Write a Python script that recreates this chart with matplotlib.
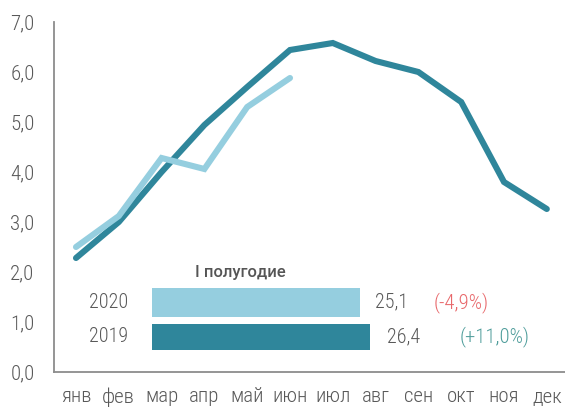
import matplotlib.pyplot as plt
from matplotlib.ticker import FuncFormatter

months = ["янв", "фев", "мар", "апр", "май", "июн", "июл", "авг", "сен", "окт", "ноя", "дек"]
y2019 = [2.28, 3.0, 4.0, 4.94, 5.7, 6.44, 6.58, 6.22, 6.0, 5.4, 3.8, 3.26]
y2020 = [2.5, 3.12, 4.28, 4.06, 5.3, 5.88]

bar_years = ["2020", "2019"]
bar_values = [25.1, 26.4]
bar_changes = ["(-4,9%)", "(+11,0%)"]

DARK = "#2f869b"
LIGHT = "#95cedf"
GRAY = "#595959"

plt.rcParams["font.family"] = ["Roboto Condensed", "Roboto", "DejaVu Sans"]
FS = 15

fig = plt.figure(figsize=(5.65, 4.08), dpi=100)
W, H = 565, 408
ax = fig.add_axes([54 / W, 1 - 372 / H, (565 - 54) / W, (372 - 22) / H])

x = list(range(len(months)))
ax.plot(x, y2019, color=DARK, lw=4.4, solid_capstyle="round", solid_joinstyle="miter")
ax.plot(x[:len(y2020)], y2020, color=LIGHT, lw=4.4, solid_capstyle="round", solid_joinstyle="miter")

ax.set_xlim(-(76 - 54) / 42.8, (565 - 76) / 42.8)
ax.set_ylim(0, 7)
ax.set_yticks([0, 1, 2, 3, 4, 5, 6, 7])
ax.yaxis.set_major_formatter(FuncFormatter(lambda v, p: f"{v:.1f}".replace(".", ",")))
ax.set_xticks(x)
ax.set_xticklabels(months)
ax.tick_params(axis="both", length=0, labelsize=FS, labelcolor=GRAY)
ax.tick_params(axis="y", pad=14)
ax.tick_params(axis="x", pad=11)
for t in ax.get_xticklabels() + ax.get_yticklabels():
    t.set_fontweight("light")
for s in ["top", "right"]:
    ax.spines[s].set_visible(False)
for s in ["left", "bottom"]:
    ax.spines[s].set_color("#8c8c8c")
    ax.spines[s].set_linewidth(1.3)

# inset with half-year totals
bx = fig.add_axes([152 / W, 1 - 356 / H, (565 - 152) / W, (356 - 285) / H])
bx.set_xlim(0, 413 / 8.27)
bx.set_ylim(-0.55, 1.5)
bx.axis("off")
pos = [1, 0]
bx.barh(pos, bar_values, height=[0.82, 0.76], color=[LIGHT, DARK])
val_off = [15, 17]
chg_off = [74, 89]
chg_col = ["#e8686b", "#4f9d9b"]
for p, yr, v, c, vo, co, cc in zip(pos, bar_years, bar_values, bar_changes, val_off, chg_off, chg_col):
    bx.annotate(yr, (0, p), xytext=(-24 * 0.72, 0), textcoords="offset points", ha="right", va="center",
                fontsize=14.5, color=GRAY, fontweight="light")
    bx.annotate(f"{v:.1f}".replace(".", ","), (v, p), xytext=(vo * 0.72, 0), textcoords="offset points",
                ha="left", va="center", fontsize=14.5, color=GRAY, fontweight="light")
    bx.annotate(c, (v, p), xytext=(co * 0.72, 0), textcoords="offset points",
                ha="left", va="center", fontsize=FS, color=cc, fontweight="light")

fig.text(240 / W, 1 - 273 / H, "I полугодие", ha="center", va="center", fontsize=12,
         color="#555555", fontweight="medium", family=["Roboto", "DejaVu Sans"])

fig.savefig("out.png", dpi=100)
